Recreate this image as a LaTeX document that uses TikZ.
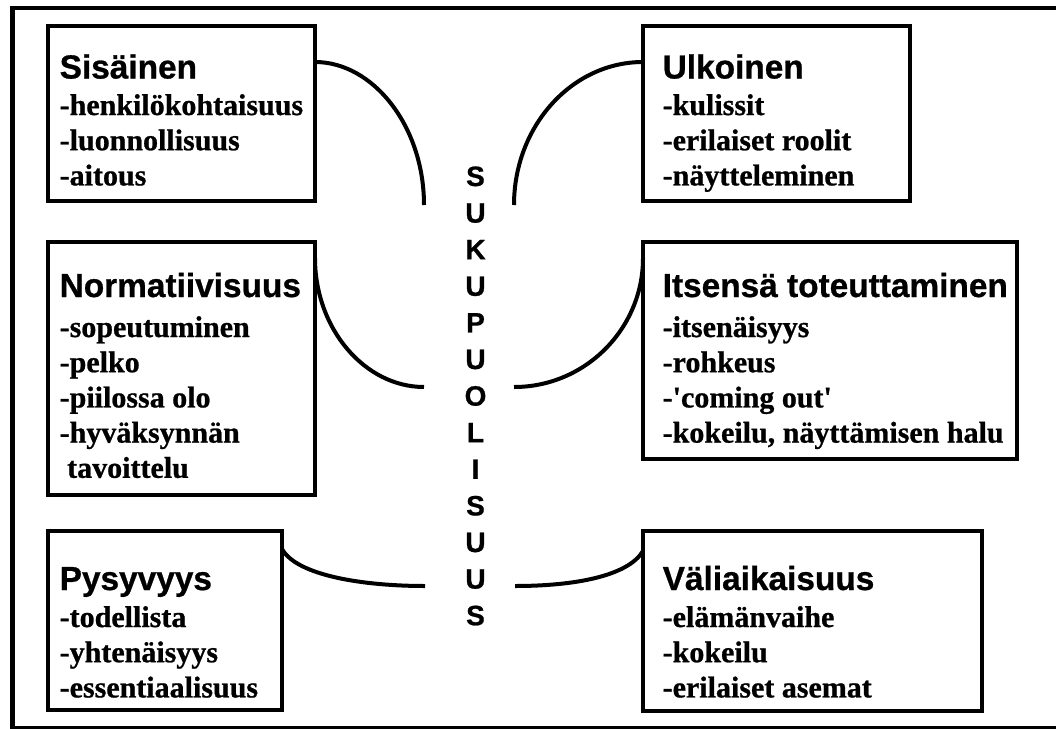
\documentclass[tikz,border=0pt]{standalone}
\usepackage{fontspec}
\setmainfont{Liberation Serif}
\newfontfamily\headfont{Liberation Sans}[BoldFeatures={FakeBold=0.8}]
\newfontfamily\itemfont{Liberation Serif}[BoldFeatures={FakeBold=0.8}]
\usetikzlibrary{calc}
\tikzset{
  outerframe/.style={draw=black, line width=4.5pt},
  box/.style={draw=black, line width=4pt, rectangle, anchor=north west, inner sep=0pt, outer sep=0pt},
  link/.style={draw=black, line width=4pt},
  head/.style={anchor=base west, inner sep=0pt, font=\headfont\bfseries\fontsize{33.4}{40}\selectfont},
  items/.style={anchor=base west, inner sep=0pt, font=\itemfont\bfseries\fontsize{30}{35.2}\selectfont},
  word/.style={anchor=base, inner sep=0pt, font=\headfont\bfseries\fontsize{28}{36.6}\selectfont},
}

\begin{document}
\begin{tikzpicture}[x=1pt,y=-1pt]
  \fill[white] (0,0) rectangle (1056,728);
  \useasboundingbox (0,0) rectangle (1056,728);
  \draw[outerframe] (12.5,8) rectangle (1080,728.5);

  % boxes
  \node[box, minimum width=267pt, minimum height=175pt] (sis) at (48,26) {};
  \node[box, minimum width=267pt, minimum height=175pt] (ulk) at (643,26) {};
  \node[box, minimum width=267pt, minimum height=253pt] (nor) at (48,242) {};
  \node[box, minimum width=374pt, minimum height=217pt] (its) at (643,242) {};
  \node[box, minimum width=234pt, minimum height=179pt] (pys) at (48,531) {};
  \node[box, minimum width=339pt, minimum height=180pt] (val) at (643,531) {};

  % texts
  \node[head] (sisH) at (59.5,78.5) {Sisäinen};
  \node[items] (sisT) at (59.5,115) {\begin{tabular}[t]{@{}l@{}}-henkilökohtaisuus\\-luonnollisuus\\-aitous\end{tabular}};
  \node[head] (ulkH) at (662.5,78.5) {Ulkoinen};
  \node[items] (ulkT) at (662.5,115) {\begin{tabular}[t]{@{}l@{}}-kulissit\\-erilaiset roolit\\-näytteleminen\end{tabular}};
  \node[head] (norH) at (59.5,297) {Normatiivisuus};
  \node[items] (norT) at (59.5,337) {\begin{tabular}[t]{@{}l@{}}-sopeutuminen\\-pelko\\-piilossa olo\\-hyväksynnän\\\hspace*{7.5pt}tavoittelu\end{tabular}};
  \node[head] (itsH) at (662.5,297) {Itsensä toteuttaminen};
  \node[items] (itsT) at (662.5,337) {\begin{tabular}[t]{@{}l@{}}-itsenäisyys\\-rohkeus\\-\textquotesingle coming out\textquotesingle\\-kokeilu, näyttämisen halu\end{tabular}};
  \node[head] (pysH) at (59.5,590) {Pysyvyys};
  \node[items] (pysT) at (59.5,627) {\begin{tabular}[t]{@{}l@{}}-todellista\\-yhtenäisyys\\-essentiaalisuus\end{tabular}};
  \node[head] (valH) at (662.5,590) {Väliaikaisuus};
  \node[items] (valT) at (662.5,627) {\begin{tabular}[t]{@{}l@{}}-elämänvaihe\\-kokeilu\\-erilaiset asemat\end{tabular}};

  % centre word
  \node[word] (suku) at (475.5,186) {\begin{tabular}[t]{@{}c@{}}S\\U\\K\\U\\P\\U\\O\\L\\I\\S\\U\\U\\S\end{tabular}};

  % curve ends
  \coordinate (sA) at (424,205);
  \coordinate (uA) at (514,205);
  \coordinate (nA) at (424,387);
  \coordinate (iA) at (514,387);
  \coordinate (pA) at (425,586);
  \coordinate (vA) at (515,586);

  \draw[link] ($(sis.north east)+(0,36)$) .. controls +(58,0) and +(0,-79) .. (sA);
  \draw[link] ($(ulk.north west)+(0,36)$) .. controls +(-71,0) and +(0,-79) .. (uA);
  \draw[link] ($(nor.north east)+(0,16)$) .. controls +(0,71) and +(-59,0) .. (nA);
  \draw[link] ($(its.north west)+(0,16)$) .. controls +(0,71) and +(71,0) .. (iA);
  \draw[link] ($(pys.north east)+(0,18)$) .. controls +(15,27) and +(-60,0) .. (pA);
  \draw[link] ($(val.north west)+(0,20)$) .. controls +(-15,25) and +(60,0) .. (vA);
\end{tikzpicture}
\end{document}
